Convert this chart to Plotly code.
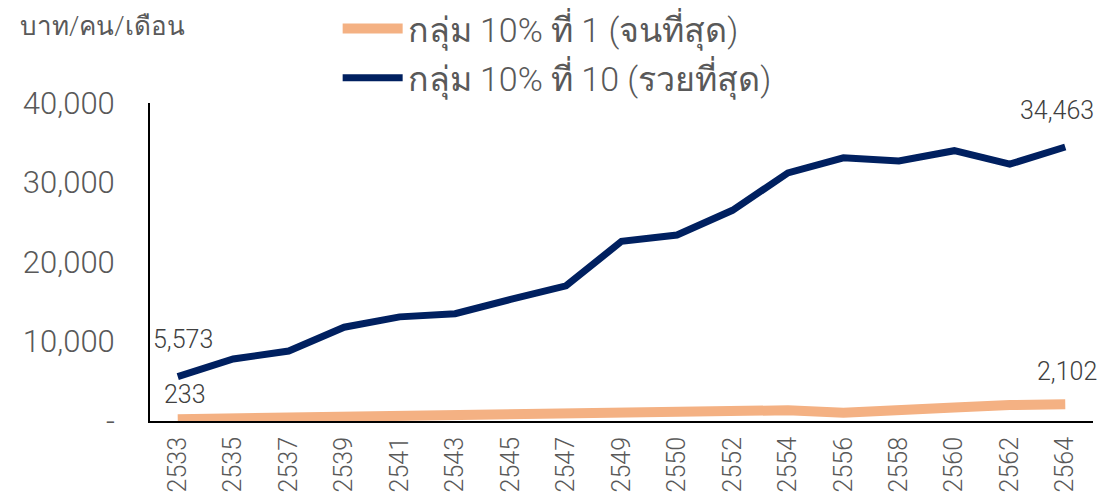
import plotly.graph_objects as go

years = ["2533", "2535", "2537", "2539", "2541", "2543", "2545", "2547", "2549",
         "2550", "2552", "2554", "2556", "2558", "2560", "2562", "2564"]
poorest = [233, 350, 450, 600, 700, 650, 800, 950, 900, 1100, 1250, 1350, 1050,
           1500, 1700, 2000, 2102]
richest = [5573, 7800, 8800, 11800, 13100, 13500, 15300, 17000, 22600, 23400,
           26500, 31200, 33100, 32700, 34000, 32300, 34463]
name_poor = "กลุ่ม 10% ที่ 1 (จนที่สุด)"
name_rich = "กลุ่ม 10% ที่ 10 (รวยที่สุด)"
ytick_vals = [0, 10000, 20000, 30000, 40000]
ytick_text = ["-", "10,000", "20,000", "30,000", "40,000"]
unit_label = "บาท/คน/เดือน"

FONT = "Roboto, Noto Sans, sans-serif"
GREY = "#595959"

fig = go.Figure()
fig.add_trace(go.Scatter(x=years, y=poorest, mode="lines", name=name_poor,
                         legendgroup="a",
                         line=dict(color="#F4B183", width=10)))
fig.add_trace(go.Scatter(x=years, y=richest, mode="lines", name=name_rich,
                         legendgroup="b",
                         line=dict(color="#002060", width=7)))

first, last = 0, len(years) - 1
annots = [
    (first, richest[first], f"{richest[first]:,}", 37, 5),
    (last, richest[last], f"{richest[last]:,}", 37, -8),
    (first, poorest[first], f"{poorest[first]:,}", 25, 7),
    (last, poorest[last], f"{poorest[last]:,}", 33, 2),
]
for x, y, t, ys, xs in annots:
    fig.add_annotation(x=x, y=y, text=t, showarrow=False, yshift=ys, xshift=xs,
                       font=dict(family=FONT, size=25, color="#404040", weight=300))

fig.add_annotation(xref="paper", yref="paper", x=-0.140, y=1.296,
                   xanchor="left", yanchor="top", text=unit_label,
                   showarrow=False,
                   font=dict(family=FONT, size=26, color=GREY, weight=300))

fig.update_layout(
    width=1117, height=498,
    margin=dict(l=142, r=32, t=95, b=85, autoexpand=False),
    plot_bgcolor="white", paper_bgcolor="white",
    font=dict(family=FONT, color=GREY),
    showlegend=True,
    legend=dict(xref="paper", yref="paper", x=0.199, y=1.324,
                xanchor="left", yanchor="top",
                font=dict(family=FONT, size=34, color=GREY, weight=300),
                bgcolor="rgba(0,0,0,0)", tracegroupgap=2, itemwidth=60,
                traceorder="grouped"),
    xaxis=dict(type="category", range=[-0.5, 16.5], showline=True,
               linecolor="black", linewidth=2, showgrid=False, ticks="",
               tickangle=-90, automargin=False, ticklabelstandoff=4,
               tickfont=dict(family=FONT, size=25, color=GREY, weight=300)),
    yaxis=dict(range=[0, 40000], showline=True, linecolor="black", linewidth=2,
               showgrid=False, zeroline=False, ticks="", tickvals=ytick_vals,
               ticktext=ytick_text, ticklabelstandoff=27, automargin=False,
               tickfont=dict(family=FONT, size=31, color=GREY, weight=300)),
)

fig.write_html("out.html")
